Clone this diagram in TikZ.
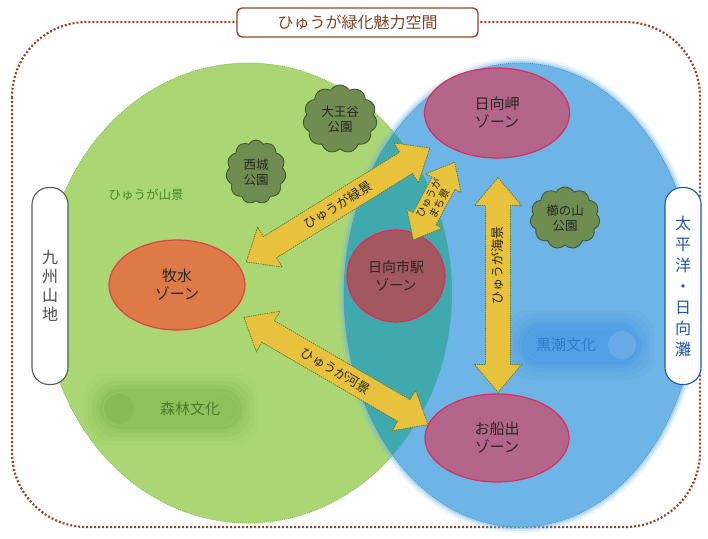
\documentclass[tikz,border=0pt]{standalone}
\usepackage{fontspec}
\setmainfont{Noto Sans CJK JP}
\usetikzlibrary{shapes.geometric,shapes.arrows,shapes.symbols}
\definecolor{bordbrown}{HTML}{8E4A2C}
\definecolor{greenfill}{HTML}{AAD773}
\definecolor{greenline}{HTML}{86B85A}
\definecolor{bluefill}{HTML}{6DB5E6}
\definecolor{blueline}{HTML}{5A92C0}
\definecolor{tealfill}{HTML}{3FA9AE}
\definecolor{arrowfill}{HTML}{E8C23C}
\definecolor{arrowline}{HTML}{5E7F3A}
\definecolor{cloudfill}{HTML}{6F8D50}
\definecolor{cloudline}{HTML}{3E5A2C}
\definecolor{zoneorange}{HTML}{DE7A48}
\definecolor{zoneorangeline}{HTML}{D9483A}
\definecolor{zonebrown}{HTML}{A2585E}
\definecolor{zonemauve}{HTML}{B4668A}
\definecolor{zoneline}{HTML}{DC2C5C}
\definecolor{forestgreen}{HTML}{4C7A28}
\definecolor{forestglow}{HTML}{7FB04A}
\definecolor{kuroglow}{HTML}{3C8EE2}
\definecolor{kurotext}{HTML}{2F7CC8}
\definecolor{pacific}{HTML}{1F5AA8}
\begin{document}
\begin{tikzpicture}[x=1pt,y=-1pt,
  zone/.style={ellipse, line width=1.2pt, align=center, text=black!85,
    font=\fontsize{15}{18}\selectfont, inner sep=0pt},
  park/.style={cloud, cloud puffs=11, cloud puff arc=120, aspect=1.05,
    fill=cloudfill, draw=cloudline, line width=0.9pt, align=center,
    text=black!85, font=\fontsize{12.5}{15}\selectfont, inner sep=1pt},
  barrow/.style={double arrow, fill=arrowfill, draw=arrowline,
    dash pattern=on 1.4pt off 0.9pt, line width=0.8pt,
    double arrow head extend=11pt, double arrow tip angle=80,
    inner xsep=2pt, inner ysep=6pt, text=black!85,
    font=\fontsize{13}{14}\selectfont},
  sidebox/.style={draw, fill=white, rounded corners=17pt, line width=1.1pt,
    minimum width=36pt, minimum height=197pt, align=center, inner sep=0pt},
]
\useasboundingbox (0,0) rectangle (708,538);
\fill[white] (0,0) rectangle (708,538);

% outer dotted frame
\draw[bordbrown, line width=2.2pt, dash pattern=on 2pt off 2pt, rounded corners=75pt]
  (12,22) rectangle (700,527);

% green ellipse
\fill[greenfill] (248,293) ellipse [x radius=204, y radius=230];
\draw[greenline, line width=0.8pt, dash pattern=on 1pt off 1pt] (248,293) ellipse [x radius=204, y radius=230];

% blue ellipse with soft edge
\foreach \w/\o in {12/0.12, 8/0.2, 4/0.35}
  \draw[bluefill, line width=\w pt, opacity=\o] (520,295) ellipse [x radius=176, y radius=232];
\fill[bluefill] (520,295) ellipse [x radius=176, y radius=232];
\begin{scope}
  \clip (248,293) ellipse [x radius=204, y radius=230];
  \fill[tealfill] (520,295) ellipse [x radius=176, y radius=232];
\end{scope}
\draw[blueline, line width=0.8pt, dash pattern=on 1pt off 1pt] (520,295) ellipse [x radius=176, y radius=232];

% forest culture pill
\foreach \e/\o in {16/0.07, 12/0.09, 8/0.12, 4/0.16}
  \fill[forestglow, opacity=\o, rounded corners=24pt] (100-\e,389-\e) rectangle (242+\e,429+\e);
\fill[forestglow!60!greenfill, rounded corners=20pt] (100,389) rectangle (242,429);
\draw[forestglow!45!greenfill, line width=0.8pt, rounded corners=19pt] (103,392) rectangle (239,426);
\fill[forestglow, opacity=0.35] (119,409) circle (15);
\node[text=forestgreen, font=\fontsize{15}{18}\selectfont] (shinrin) at (190,409) {森林文化};

% kuroshio culture pill
\foreach \e/\o in {16/0.08, 12/0.1, 8/0.14, 4/0.2}
  \fill[kuroglow, opacity=\o, rounded corners=24pt] (522-\e,326-\e) rectangle (638+\e,364+\e);
\fill[kuroglow!55!bluefill, rounded corners=19pt] (522,326) rectangle (638,364);
\draw[kuroglow!40!bluefill, line width=0.8pt, rounded corners=17pt] (525,329) rectangle (635,361);
\fill[kuroglow!60!white, opacity=0.4] (622,345) circle (14);
\node[text=kurotext, font=\fontsize{15}{18}\selectfont] (kuroshio) at (566,345) {黒潮文化};

% text in the green area
\node[text=forestgreen!90!green, font=\fontsize{12.5}{15}\selectfont] (sankei) at (146,195) {ひゅうが山景};

% parks
\node[park, minimum width=74pt, minimum height=68pt] (daio) at (340,119) {大王谷\\公園};
\node[park, minimum width=60pt, minimum height=64pt] (nishijo) at (256,172) {西城\\公園};
\node[park, minimum width=70pt, minimum height=62pt] (kushi) at (565,218) {櫛の山\\公園};

% zones
\node[zone, fill=zoneorange, draw=zoneorangeline, minimum width=136pt, minimum height=90pt] (bokusui) at (177,285) {牧水\\ゾーン};
\node[zone, fill=zonebrown, draw=zoneline, minimum width=98pt, minimum height=92pt, font=\fontsize{14}{18}\selectfont] (eki) at (396,276) {日向市駅\\ゾーン};
\node[zone, fill=zonemauve, draw=zoneline, minimum width=145pt, minimum height=90pt] (misaki) at (497,113) {日向岬\\ゾーン};
\node[zone, fill=zonemauve, draw=zoneline, minimum width=144pt, minimum height=88pt] (ofunade) at (497,438) {お船出\\ゾーン};

% arrows
\node[barrow, rotate=31.8, minimum height=216pt] (ryokkei) at (338,205) {ひゅうが緑景};
\node[barrow, rotate=-30.2, minimum height=213pt] (kakei) at (336,371) {ひゅうが河景};
\node[barrow, rotate=90, minimum height=215pt] (kaikei) at (498,285) {\hspace{40pt}ひゅうが海景};
\node[barrow, rotate=62, minimum height=88pt, align=center, inner ysep=2pt,
  double arrow head extend=7pt, font=\fontsize{10.5}{11.5}\selectfont] (machikei) at (434,201) {ひゅうが\\まち景};

% side boxes
\node[sidebox, draw=black!65, text=black!70, font=\fontsize{16}{19}\selectfont] (kyushu) at (50,286) {九\\州\\山\\地};
\node[sidebox, draw=pacific, text=pacific, font=\fontsize{16}{21}\selectfont] (taiheiyo) at (683,286) {太\\平\\洋\\・\\日\\向\\灘};

% title
\node[draw=bordbrown, fill=white, line width=1.4pt, rounded corners=5pt,
  minimum width=241pt, minimum height=29pt, text=bordbrown!90!black,
  font=\fontsize{16}{18}\selectfont] (title) at (357.5,22.5) {ひゅうが緑化魅力空間};
\end{tikzpicture}
\end{document}
